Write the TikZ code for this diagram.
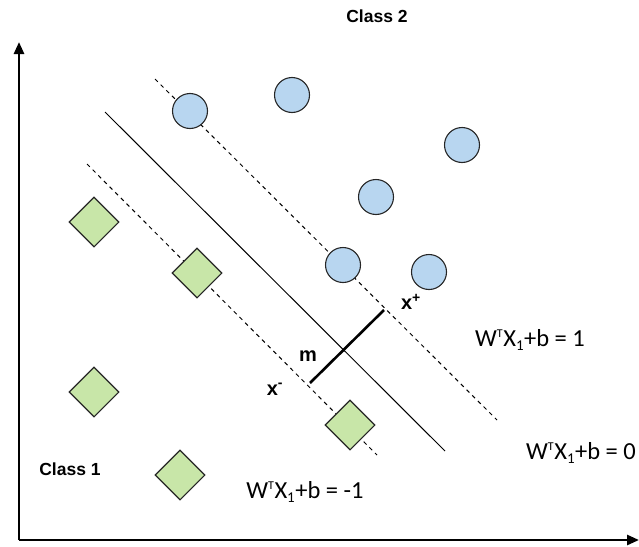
\documentclass[tikz,border=0pt]{standalone}
\usepackage{fontspec}
\setmainfont{Liberation Sans}
\newfontfamily\calib{Carlito}
\usetikzlibrary{shapes.geometric,arrows.meta}
\definecolor{cblue}{HTML}{B8D6F0}
\definecolor{cgreen}{HTML}{C8E6A8}
\tikzset{
  pt/.style={circle,draw=black!85,line width=1.1pt,fill=cblue,minimum size=35pt,inner sep=0pt},
  dm/.style={diamond,draw=black!85,line width=1.1pt,fill=cgreen,minimum size=50pt,inner sep=0pt},
  axis/.style={line width=2.6pt,-{Triangle[length=12pt,width=10pt]}},
  marg/.style={dashed,line width=1pt,dash pattern=on 4pt off 4pt},
  hyper/.style={line width=1pt},
  lbl/.style={font=\bfseries\fontsize{17.5}{20}\selectfont},
  sym/.style={font=\bfseries\fontsize{20}{22}\selectfont},
  eq/.style={font=\calib\fontsize{24.5}{26}\selectfont}
}
\newcommand{\wtx}{W\textsuperscript{\fontsize{12}{12}\selectfont T}X\textsubscript{\fontsize{15}{15}\selectfont 1}+b}
\begin{document}
\begin{tikzpicture}[x=1pt,y=-1pt]
\useasboundingbox (0,0) rectangle (639,546);
% axes
\coordinate (o) at (19,540);
\coordinate (ytop) at (19,42);
\coordinate (xend) at (639,540);
\draw[axis] (o) -- (ytop);
\draw[axis] (o) -- (xend);
% lines
\coordinate (s1) at (105,112); \coordinate (s2) at (445,451);
\coordinate (u1) at (155,79); \coordinate (u2) at (497,420);
\coordinate (l1) at (87,164); \coordinate (l2) at (377,455);
\draw[hyper] (s1) -- (s2);
\draw[marg] (u1) -- (u2);
\draw[marg] (l1) -- (l2);
% points
\node[pt] (c1) at (190,111) {};
\node[pt] (c2) at (292,95) {};
\node[pt] (c3) at (462,145) {};
\node[pt] (c4) at (376,197) {};
\node[pt] (c5) at (343,265) {};
\node[pt] (c6) at (429,272) {};
\node[dm] (d1) at (94,222) {};
\node[dm] (d2) at (197,273) {};
\node[dm] (d3) at (94,392) {};
\node[dm] (d4) at (350,425) {};
\node[dm] (d5) at (180,475) {};
% margin segment
\coordinate (xm) at (310,383);
\coordinate (xp) at (384,310);
\draw[line width=2.6pt] (xm) -- (xp);
% labels
\node[lbl] (cl2) at (377,16) {Class 2};
\node[lbl] (cl1) at (70,469) {Class 1};
\node[sym] (m) at (308,356) {m};
\node[sym] (xminus) at (275,389) {x\textsuperscript{-}};
\node[sym] (xplus) at (411,302) {x\textsuperscript{+}};
\node[eq] (e1) at (530,340) {\wtx{} = 1};
\node[eq] (e0) at (581,453) {\wtx{} = 0};
\node[eq] (em) at (305,492) {\wtx{} = -1};
\end{tikzpicture}
\end{document}
